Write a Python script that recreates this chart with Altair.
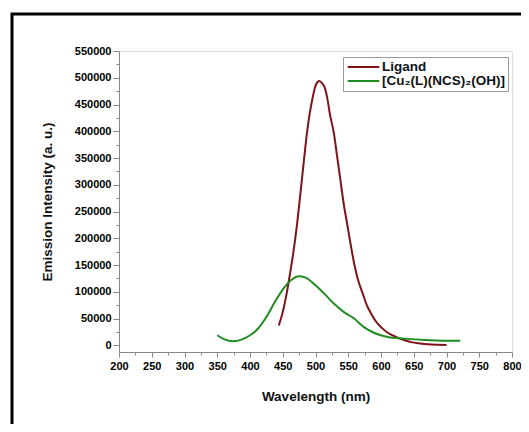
import altair as alt
import pandas as pd

# Ligand emission spectrum
lig_wl = [444, 450, 456, 461, 466, 472, 477, 482, 487, 491, 495, 499, 503, 506, 510, 514, 518, 522, 528, 533, 538, 543, 549, 554, 559, 565, 572, 578, 585, 592, 600, 611, 623, 635, 646, 660, 672, 686, 700]
lig_int = [37000, 62000, 97000, 133000, 172000, 228000, 284000, 342000, 397000, 432000, 459000, 481000, 492000, 494000, 490000, 482000, 462000, 432000, 397000, 353000, 309000, 265000, 222000, 186000, 153000, 122000, 97000, 76000, 59000, 45000, 34000, 23000, 15600, 10000, 6000, 3500, 2000, 1200, 800]

# [Cu2(L)(NCS)2(OH)] emission spectrum
cu_wl = [350, 361, 374, 387, 400, 412, 425, 438, 451, 464, 474, 484, 497, 513, 528, 543, 559, 574, 590, 610, 636, 667, 698, 721]
cu_int = [18750, 11000, 7500, 10600, 18750, 31000, 53000, 81000, 106000, 123000, 129000, 127000, 115600, 97000, 78000, 62500, 50000, 34000, 23000, 15600, 12500, 10000, 8750, 8750]

series_names = ["Ligand", "[Cu\u2082(L)(NCS)\u2082(OH)]"]
series_colors = ["#7d1416", "#1f8c22"]

x_ticks = list(range(200, 801, 25))
y_ticks = list(range(0, 550001, 25000))

df = pd.concat([
    pd.DataFrame({"wl": lig_wl, "val": lig_int, "series": series_names[0], "order": range(len(lig_wl))}),
    pd.DataFrame({"wl": cu_wl, "val": cu_int, "series": series_names[1], "order": range(len(cu_wl))}),
])

FONT = "Liberation Sans"

lines = alt.Chart(df).mark_line(strokeWidth=2, interpolate="monotone").encode(
    x=alt.X("wl:Q", scale=alt.Scale(domain=[200, 800], nice=False, zero=False),
            axis=alt.Axis(
                title="Wavelength (nm)", values=x_ticks, grid=False,
                labelExpr="datum.value % 50 === 0 ? datum.label : ''",
                tickSize={"condition": {"test": "datum.value % 50 === 0", "value": 5}, "value": 3},
                labelPadding=3, titlePadding=18, format="d",
                labelFlush=False, labelOverlap=False,
                labelFont=FONT, labelFontSize=11, labelFontWeight="bold", labelColor="#000",
                titleFont=FONT, titleFontSize=13.5, titleFontWeight="bold", titleColor="#111",
            )),
    y=alt.Y("val:Q", scale=alt.Scale(domain=[-12500, 550000], nice=False, zero=False),
            axis=alt.Axis(
                title="Emission Intensity (a. u.)", values=y_ticks, grid=False,
                labelExpr="datum.value % 50000 === 0 ? datum.label : ''",
                tickSize={"condition": {"test": "datum.value % 50000 === 0", "value": 6}, "value": 3},
                labelPadding=2, titlePadding=20, format="d",
                labelFlush=False, labelOverlap=False,
                labelFont=FONT, labelFontSize=11, labelFontWeight="bold", labelColor="#000",
                titleFont=FONT, titleFontSize=13.5, titleFontWeight="bold", titleColor="#111",
            )),
    color=alt.Color("series:N", scale=alt.Scale(domain=series_names, range=series_colors),
                    legend=alt.Legend(title=None, orient="none", legendX=224, legendY=6,
                                      symbolType="M-0.88,0H4.38", symbolSize=144, symbolStrokeWidth=2,
                                      labelFont=FONT, labelFontSize=13.5, labelFontWeight="bold",
                                      labelColor="#111", rowPadding=-2, padding=3,
                                      labelOffset=22, strokeColor="#999", fillColor="white")),
    order="order:Q",
)

border = alt.Chart(pd.DataFrame({"a": [0]})).mark_rect(
    filled=False, stroke="black", strokeWidth=3
).encode(
    x=alt.value(-107), x2=alt.value(425), y=alt.value(-37), y2=alt.value(400)
)

chart = alt.layer(lines, border).properties(
    width=393, height=301,
    autosize=alt.AutoSizeParams(type="none"),
    padding={"left": 111, "top": 43, "right": 9, "bottom": 72},
).configure_view(
    stroke="#333", strokeWidth=1.5
).configure_axis(
    domainColor="#222", domainWidth=2, tickColor="#222", tickWidth=1.5,
).configure(background="white")

chart.save("out.html", embed_options={"renderer": "svg", "actions": False})
